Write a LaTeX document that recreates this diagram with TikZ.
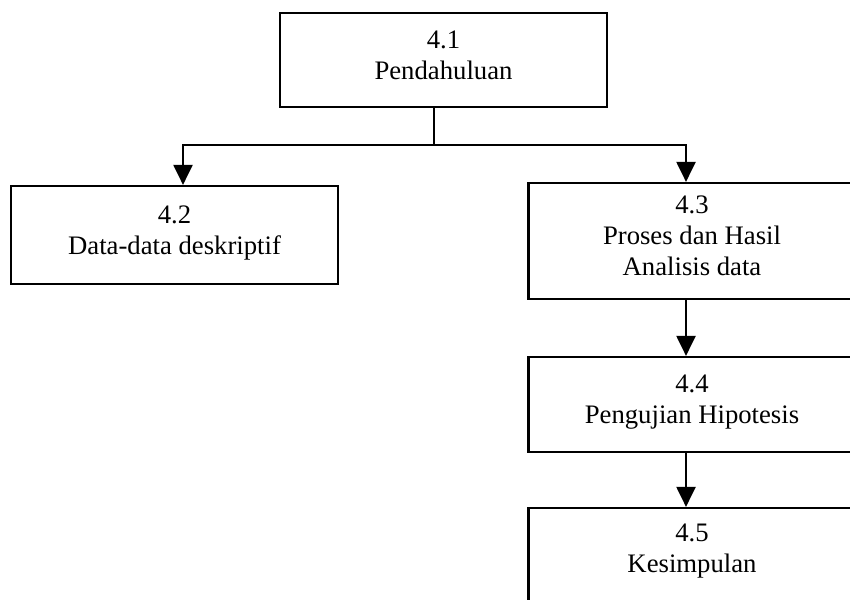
\documentclass[tikz,border=0pt]{standalone}
\usepackage{fontspec}
\setmainfont{Liberation Serif}
\usetikzlibrary{arrows.meta}

\tikzset{
  chapbox/.style={draw, line width=2.2pt, inner sep=0pt, align=center,
    minimum width=327pt, text depth=10pt,
    font=\fontsize{26.7}{31}\selectfont},
  flow/.style={line width=2.2pt},
  flowarrow/.style={flow, -{Triangle[width=19pt,length=20pt]}}
}

\begin{document}
\begin{tikzpicture}[x=1pt, y=-1pt]
  \useasboundingbox (0,0) rectangle (850,599);
  \clip (0,0) rectangle (850,599);

  % chapter sections
  \node[chapbox, minimum height=94pt]  (n41) at (443.5,60)  {4.1\\Pendahuluan};
  \node[chapbox, minimum height=98pt]  (n42) at (174.5,235) {4.2\\Data-data deskriptif};
  \node[chapbox, minimum height=116pt] (n43) at (692,241)   {4.3\\Proses dan Hasil\\Analisis data};
  \node[chapbox, minimum height=95pt]  (n44) at (692,404.5) {4.4\\Pengujian Hipotesis};
  \node[chapbox, minimum height=107pt, text depth=27pt] (n45) at (692,561.5) {4.5\\Kesimpulan};

  % branching from the introduction
  \coordinate (split) at (434,145);
  \draw[flow] ([xshift=-9.5pt]n41.south) -- (split);
  \draw[flowarrow] (split) -| ([xshift=8.5pt]n42.north);
  \draw[flowarrow] (split) -| ([xshift=-6pt]n43.north);

  % right column sequence
  \draw[flowarrow] ([xshift=-6pt]n43.south) -- ([xshift=-6pt]n44.north);
  \draw[flowarrow] ([xshift=-6pt]n44.south) -- ([xshift=-6pt]n45.north);
\end{tikzpicture}
\end{document}
